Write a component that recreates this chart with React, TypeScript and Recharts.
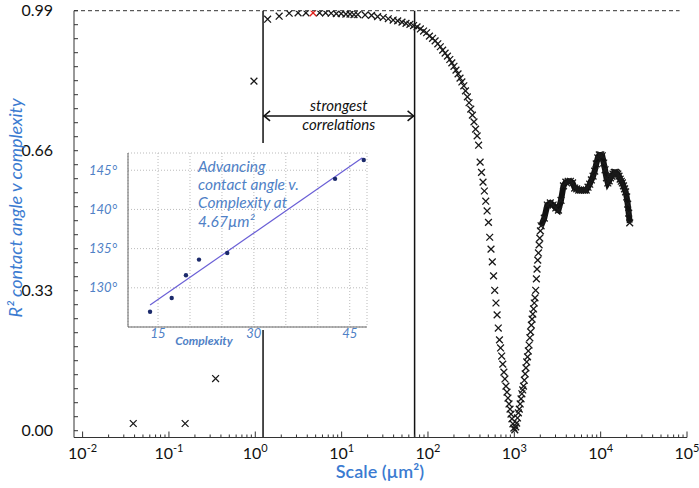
import React from 'react';
import { ScatterChart, Scatter, XAxis, YAxis, ReferenceLine, CartesianGrid } from 'recharts';

// main series: scale (µm²) vs R² of contact angle v complexity
const markerScale = [
  0.0386, 0.154, 0.347, 0.965, 1.39, 1.89, 2.47, 3.13, 3.86, 5.56, 6.52, 7.56, 8.68, 9.88, 11.2, 12.5, 13.9, 15.4,
  18.7, 22.2, 26.1, 30.3, 34.7, 39.5, 44.6, 50.0, 55.7, 61.8, 68.1, 74.7, 81.7, 88.9, 96.5,
  104, 113, 121, 130, 139, 148, 158, 168, 179, 189, 200, 211, 223, 235, 247, 260, 272, 286, 299, 313, 327, 341, 356, 371,
  386, 402, 417, 434, 450, 467, 484, 502, 519, 537, 556, 575, 593, 613, 632, 652, 673, 693, 714, 735, 757, 778, 800, 823,
  845, 868, 892, 915, 939, 964, 988, 1013, 1038, 1064, 1089, 1115, 1142, 1169, 1196, 1223, 1251, 1278, 1307, 1335, 1364,
  1393, 1423, 1453, 1483, 1513, 1544, 1575, 1606, 1638, 1670, 1702, 1735, 1768, 1801, 1834, 1868, 1902, 1937, 1971, 2006,
];
const markerR2 = [
  0.017, 0.017, 0.123, 0.824, 0.970, 0.977, 0.984, 0.985, 0.985, 0.985, 0.985, 0.984, 0.983, 0.983, 0.982, 0.982, 0.981, 0.981,
  0.980, 0.979, 0.976, 0.974, 0.971, 0.968, 0.966, 0.963, 0.960, 0.958, 0.955, 0.952, 0.947, 0.942, 0.938,
  0.930, 0.925, 0.919, 0.912, 0.905, 0.897, 0.890, 0.883, 0.875, 0.867, 0.859, 0.850, 0.841, 0.831, 0.822, 0.813, 0.801, 0.787, 0.773, 0.758, 0.744, 0.728, 0.711, 0.695,
  0.673, 0.633, 0.609, 0.586, 0.565, 0.541, 0.518, 0.491, 0.456, 0.428, 0.398, 0.365, 0.331, 0.301, 0.273, 0.242, 0.214, 0.195, 0.176, 0.157, 0.138, 0.122, 0.105, 0.091,
  0.077, 0.063, 0.051, 0.039, 0.028, 0.016, 0.006, 0.002, 0.009, 0.018, 0.030, 0.042, 0.051, 0.063, 0.075, 0.087, 0.096, 0.105, 0.119, 0.134, 0.148,
  0.162, 0.174, 0.188, 0.202, 0.219, 0.233, 0.249, 0.263, 0.275, 0.287, 0.301, 0.313, 0.331, 0.358, 0.381, 0.402, 0.419, 0.438, 0.454, 0.471,
];
const denseScale = [
  2042, 2223, 2412, 2609, 2814, 3026, 3246, 3474, 3709, 3952, 4203, 4462, 4728, 5002, 5284, 5573, 5870, 6175, 6488, 6808,
  7136, 7472, 7816, 8167, 8526, 8892, 9267, 9649, 10038, 10437, 10842, 11254, 11675, 12104, 12540, 12984, 13435, 13894,
  14361, 14836, 15318, 15809, 16306, 16812, 17325, 17846, 18375, 18912, 19456, 20008, 20567, 21135, 21710,
];
const denseR2 = [
  0.483, 0.501, 0.532, 0.537, 0.532, 0.525, 0.520, 0.543, 0.577, 0.586, 0.588, 0.588, 0.584, 0.572, 0.570, 0.567, 0.567, 0.567, 0.567, 0.567,
  0.574, 0.581, 0.591, 0.600, 0.612, 0.629, 0.643, 0.650, 0.650, 0.648, 0.631, 0.615, 0.596, 0.584, 0.589, 0.596, 0.600, 0.605,
  0.609, 0.609, 0.607, 0.605, 0.600, 0.593, 0.588, 0.584, 0.577, 0.570, 0.563, 0.551, 0.534, 0.513, 0.490,
];
const highlightScale = [4.67];
const highlightR2 = [0.985];

const bandEdges = [1.23, 70];
const ceilingR2 = 0.99;

const xMajorTicks = [0.01, 0.1, 1, 10, 100, 1000, 10000, 100000];
const xTickExponents = ['-2', '-1', '0', '1', '2', '3', '4', '5'];
const yLabelTicks = [0, 0.33, 0.66, 0.99];

// inset: advancing contact angle v complexity at 4.67 µm²
const complexity = [13.75, 17.14, 19.37, 21.41, 25.83, 42.7, 47.19];
const contactAngle = [126.95, 128.7, 131.6, 133.6, 134.45, 143.9, 146.3];
const fitComplexity = [13.75, 46.98];
const fitAngle = [127.8, 146.6];
const insetGridX = [15, 20, 25, 30, 35, 40, 45];
const insetXLabels = [15, 30, 45];
const insetYTicks = [130, 135, 140, 145];

const FONT = "Lato, 'Liberation Sans', sans-serif";
const BLUE = '#3b7bd1';
const INSET_BLUE = '#4f81c6';

const main = markerScale.map((x, i) => ({ x, y: markerR2[i] }));
const dense = denseScale.map((x, i) => ({ x, y: denseR2[i] }));
const highlight = highlightScale.map((x, i) => ({ x, y: highlightR2[i] }));
const insetPts = complexity.map((x, i) => ({ x, y: contactAngle[i] }));
const fitPts = fitComplexity.map((x, i) => ({ x, y: fitAngle[i] }));

const xTicks: number[] = [];
xMajorTicks.forEach((t, i) => {
  xTicks.push(t);
  if (i < xMajorTicks.length - 1) [2, 3, 4, 5, 6, 7, 8, 9].forEach(m => xTicks.push(+(t * m).toPrecision(3)));
});
const yTicks = Array.from({ length: 31 }, (_, i) => +(i * 0.033).toFixed(3));

const crossShape = (color: string) => (props: any) => {
  const { cx, cy } = props;
  const r = 3.4;
  return (
    <path
      d={`M${cx - r},${cy - r}L${cx + r},${cy + r}M${cx - r},${cy + r}L${cx + r},${cy - r}`}
      stroke={color}
      strokeWidth={1.3}
      fill="none"
    />
  );
};

const XTick = (props: any) => {
  const { x, y, payload } = props;
  const idx = xMajorTicks.indexOf(payload.value);
  const major = idx >= 0;
  return (
    <g>
      <line x1={x} x2={x} y1={y} y2={y - (major ? 6 : 3)} stroke="#333" strokeWidth={1} />
      {major && (
        <text x={x} y={y + 21} textAnchor="middle" fontFamily={FONT} fontSize={16} fill="#111">
          <tspan>10</tspan>
          <tspan dy={-7} fontSize={11}>{xTickExponents[idx]}</tspan>
        </text>
      )}
    </g>
  );
};

const YTick = (props: any) => {
  const { x, y, payload } = props;
  const labelled = yLabelTicks.some(v => Math.abs(v - payload.value) < 1e-6);
  return (
    <g>
      <line x1={x} x2={x + 4} y1={y} y2={y} stroke="#333" strokeWidth={1} />
      {labelled && (
        <text x={x - 21} y={y + 5.5} textAnchor="end" fontFamily={FONT} fontSize={16} fill="#111">
          {payload.value.toFixed(2)}
        </text>
      )}
    </g>
  );
};

const ArrowShape = (props: any) => {
  const { x1, y1, x2 } = props;
  const mid = (x1 + x2) / 2;
  return (
    <g>
      <line x1={x1} x2={x2} y1={y1} y2={y1} stroke="#111" strokeWidth={1.5} />
      <path d={`M${x1 + 7},${y1 - 5}L${x1 + 1},${y1}L${x1 + 7},${y1 + 5}`} stroke="#111" strokeWidth={1.5} fill="none" />
      <path d={`M${x2 - 7},${y1 - 5}L${x2 - 1},${y1}L${x2 - 7},${y1 + 5}`} stroke="#111" strokeWidth={1.5} fill="none" />
      <text x={mid} y={y1 - 5} textAnchor="middle" fontFamily={FONT} fontStyle="italic" fontSize={15} fill="#111">strongest</text>
      <text x={mid} y={y1 + 14} textAnchor="middle" fontFamily={FONT} fontStyle="italic" fontSize={15} fill="#111">correlations</text>
    </g>
  );
};

const InsetXTick = (props: any) => {
  const { x, y, payload } = props;
  if (!insetXLabels.includes(payload.value)) return <g />;
  return (
    <text x={x} y={y + 11} textAnchor="middle" fontFamily={FONT} fontStyle="italic" fontSize={13} fill={INSET_BLUE}>
      {payload.value}
    </text>
  );
};

const InsetYTick = (props: any) => {
  const { x, y, payload } = props;
  return (
    <text x={x - 11} y={y + 4.5} textAnchor="end" fontFamily={FONT} fontStyle="italic" fontSize={13} fill={INSET_BLUE}>
      {payload.value}°
    </text>
  );
};

export default function App() {
  return (
    <div style={{ position: 'absolute', left: 0, top: 0, width: 699, height: 488, background: '#fff' }}>
      <ScatterChart width={699} height={488} margin={{ top: 10.7, right: 12, bottom: 0.5, left: 0 }}>
        <XAxis
          type="number"
          dataKey="x"
          scale="log"
          domain={[0.00795, 100000]}
          allowDataOverflow
          ticks={xTicks}
          interval={0}
          tickSize={0}
          tickMargin={0}
          tickLine={false}
          height={50}
          stroke="#333"
          tick={(p: any) => <XTick {...p} />}
        />
        <YAxis
          type="number"
          dataKey="y"
          domain={[-0.016, 0.99]}
          allowDataOverflow
          ticks={yTicks}
          interval={0}
          tickSize={0}
          tickMargin={0}
          tickLine={false}
          width={74}
          stroke="#333"
          tick={(p: any) => <YTick {...p} />}
        />
        <ReferenceLine
          segment={[{ x: 0.00795, y: ceilingR2 }, { x: 82000, y: ceilingR2 }]}
          stroke="#333"
          strokeDasharray="4 3"
        />
        {bandEdges.map(v => (
          <ReferenceLine key={v} x={v} stroke="#111" strokeWidth={1.5} />
        ))}
        <ReferenceLine
          segment={[{ x: bandEdges[0], y: 0.742 }, { x: bandEdges[1], y: 0.742 }]}
          shape={(p: any) => <ArrowShape {...p} />}
        />
        <Scatter data={main} shape={crossShape('#1a1a1a')} isAnimationActive={false} />
        <Scatter
          data={dense}
          shape={crossShape('#1a1a1a')}
          line={{ stroke: '#111', strokeWidth: 6 }}
          isAnimationActive={false}
        />
        <Scatter data={highlight} shape={crossShape('#e0201b')} isAnimationActive={false} />
      </ScatterChart>

      <div style={{ position: 'absolute', left: 90, top: 143, width: 282, height: 187, background: '#fff' }} />
      <div style={{ position: 'absolute', left: 90, top: 143 }}>
        <ScatterChart width={282} height={205} margin={{ top: 10, right: 5, bottom: 0, left: 0 }}>
          <CartesianGrid stroke="#bbb" strokeDasharray="1 2" />
          <XAxis
            type="number"
            dataKey="x"
            domain={[10.3, 47.7]}
            allowDataOverflow
            ticks={insetGridX}
            interval={0}
            tickSize={0}
            tickMargin={0}
            tickLine={false}
            height={21}
            stroke="#666"
            tick={(p: any) => <InsetXTick {...p} />}
          />
          <YAxis
            type="number"
            dataKey="y"
            domain={[125, 147.2]}
            allowDataOverflow
            ticks={insetYTicks}
            interval={0}
            tickSize={0}
            tickMargin={0}
            tickLine={false}
            width={38}
            stroke="#666"
            tick={(p: any) => <InsetYTick {...p} />}
          />
          <Scatter
            data={fitPts}
            shape={() => <g />}
            line={{ stroke: '#6a5fd6', strokeWidth: 1.2 }}
            isAnimationActive={false}
          />
          <Scatter
            data={insetPts}
            shape={(p: any) => <circle cx={p.cx} cy={p.cy} r={2.2} fill="#1b2a6b" />}
            isAnimationActive={false}
          />
        </ScatterChart>
      </div>

      <svg width={699} height={488} style={{ position: 'absolute', left: 0, top: 0, pointerEvents: 'none' }}>
        <text
          transform="translate(22,208) rotate(-90)"
          textAnchor="middle"
          fontFamily={FONT}
          fontStyle="italic"
          fontSize={18}
          fill={BLUE}
        >
          R² contact angle v complexity
        </text>
        <text x={380} y={478} textAnchor="middle" fontFamily={FONT} fontWeight={600} fontSize={18} fill={BLUE}>
          Scale (µm²)
        </text>
        <g fontFamily={FONT} fontStyle="italic" fontSize={15.5} fill={INSET_BLUE}>
          <text x={198} y={172}>Advancing</text>
          <text x={198} y={190}>contact angle v.</text>
          <text x={198} y={208}>Complexity at</text>
          <text x={198} y={227}>4.67µm²</text>
        </g>
        <text x={204} y={345} textAnchor="middle" fontFamily={FONT} fontStyle="italic" fontWeight={700} fontSize={12} fill={INSET_BLUE}>
          Complexity
        </text>
      </svg>
    </div>
  );
}
